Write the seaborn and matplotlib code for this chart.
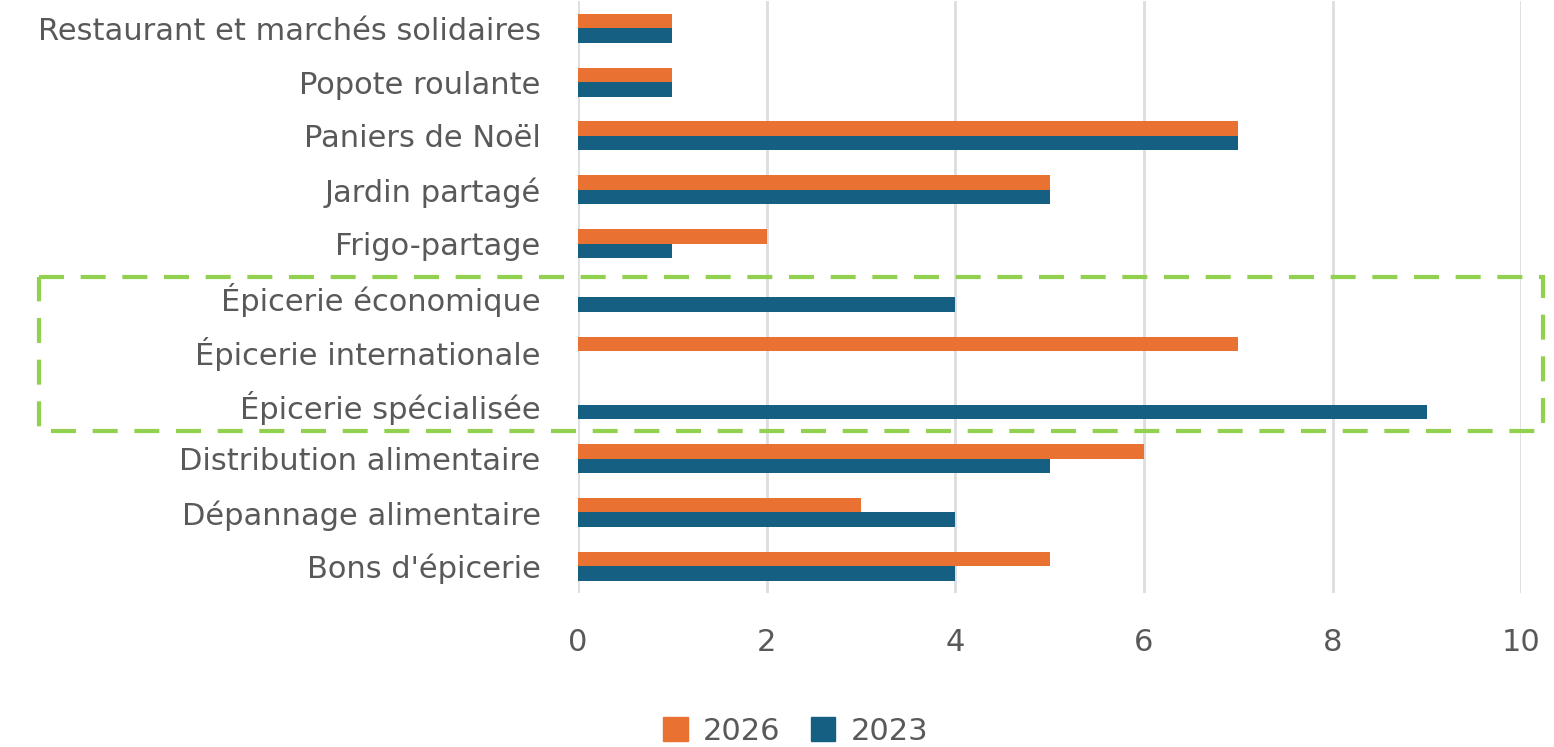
import pandas as pd
import matplotlib
matplotlib.use("Agg")
import matplotlib.pyplot as plt
import matplotlib.transforms as mtransforms
from matplotlib.patches import Rectangle
import seaborn as sns

# Data
categories = [
    "Restaurant et marchés solidaires",
    "Popote roulante",
    "Paniers de Noël",
    "Jardin partagé",
    "Frigo-partage",
    "Épicerie économique",
    "Épicerie internationale",
    "Épicerie spécialisée",
    "Distribution alimentaire",
    "Dépannage alimentaire",
    "Bons d'épicerie",
]
values_2026 = [1, 1, 7, 5, 2, 0, 7, 0, 6, 3, 5]
values_2023 = [1, 1, 7, 5, 1, 4, 0, 9, 5, 4, 4]
years = ["2026", "2023"]
x_ticks = [0, 2, 4, 6, 8, 10]

df = pd.DataFrame({
    "categorie": categories * 2,
    "annee": [years[0]] * len(categories) + [years[1]] * len(categories),
    "valeur": values_2026 + values_2023,
})

colors = {"2026": "#E97132", "2023": "#156082"}
text_color = "#595959"

sns.set_style("white")
plt.rcParams["font.family"] = ["DejaVu Sans"]

fig = plt.figure(figsize=(15.54, 7.47), dpi=100)
ax = fig.add_axes([0.372, 0.206, 0.607, 0.792])

sns.barplot(data=df, y="categorie", x="valeur", hue="annee", hue_order=years,
            palette=colors, orient="y", width=0.54, gap=0, ax=ax,
            legend=False, saturation=1, linewidth=0)

ax.set_xlim(0, 10)
ax.set_xticks(x_ticks)
ax.xaxis.grid(True, color="#DDDDDD", linewidth=2)
ax.set_axisbelow(True)
for s in ax.spines.values():
    s.set_visible(False)
ax.set_xlabel("")
ax.set_ylabel("")
ax.tick_params(axis="x", length=0, pad=25, labelsize=22, labelcolor=text_color)
ax.tick_params(axis="y", length=0, pad=27, labelsize=22, labelcolor=text_color)

# Green dashed box around the "Épicerie" rows
trans = mtransforms.blended_transform_factory(fig.transFigure, ax.transData)
box = Rectangle((0.025, 4.62), 0.968, 2.86, transform=trans, fill=False,
                edgecolor="#92D050", linewidth=3, linestyle=(0, (6, 4)),
                clip_on=False)
fig.add_artist(box)

# Legend
handles = [Rectangle((0, 0), 1, 1, color=colors[y]) for y in years]
fig.legend(handles, years, loc="lower center", bbox_to_anchor=(0.512, -0.035),
           ncol=2, frameon=False, fontsize=22, labelcolor=text_color,
           handlelength=0.8, handleheight=0.8, columnspacing=1.0,
           handletextpad=0.5)

fig.savefig("out.png", dpi=100)
